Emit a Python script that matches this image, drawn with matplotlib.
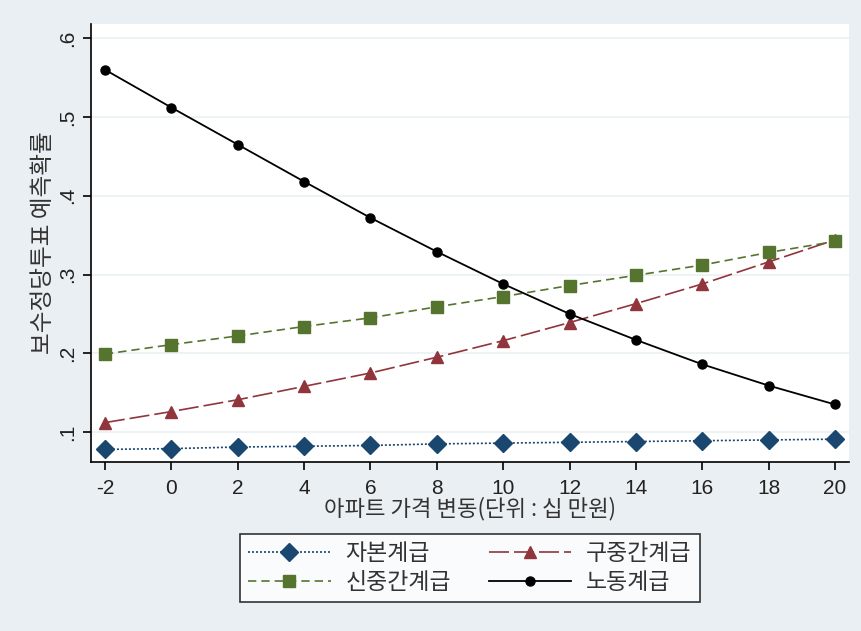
import matplotlib
matplotlib.use("Agg")
import matplotlib.pyplot as plt

plt.rcParams['font.family'] = ['Noto Sans CJK KR', 'DejaVu Sans']

x = [-2, 0, 2, 4, 6, 8, 10, 12, 14, 16, 18, 20]
capital = [0.078, 0.079, 0.081, 0.082, 0.083, 0.085, 0.086, 0.087, 0.088, 0.089, 0.090, 0.091]
old_middle = [0.112, 0.126, 0.141, 0.158, 0.175, 0.195, 0.216, 0.239, 0.263, 0.288, 0.316, 0.344]
new_middle = [0.199, 0.211, 0.222, 0.234, 0.245, 0.259, 0.272, 0.286, 0.299, 0.312, 0.328, 0.342]
working = [0.560, 0.512, 0.465, 0.418, 0.372, 0.329, 0.288, 0.250, 0.217, 0.186, 0.159, 0.135]

labels = ['자본계급', '구중간계급', '신중간계급', '노동계급']
yticks = [0.1, 0.2, 0.3, 0.4, 0.5, 0.6]
ytick_labels = ['.1', '.2', '.3', '.4', '.5', '.6']
xlabel = '아파트 가격 변동(단위 : 십 만원)'
ylabel = '보수정당투표 예측확률'

bg = '#eaeff3'
fig = plt.figure(figsize=(8.62, 6.31), dpi=100, facecolor=bg)
ax = fig.add_axes([91/862, 1-462/631, (849-91)/862, (462-24)/631])
ax.set_facecolor('white')

h0, = ax.plot(x, capital, color='#1a476f', linestyle=(0, (1.2, 1.2)), linewidth=1.2,
              marker='D', markersize=9, label=labels[0])
h1, = ax.plot(x, old_middle, color='#90353b', linestyle=(0, (12, 3)), linewidth=1.2,
              marker='^', markersize=9, label=labels[1])
h2, = ax.plot(x, new_middle, color='#55752f', linestyle=(0, (5, 3)), linewidth=1.2,
              marker='s', markersize=8, label=labels[2])
h3, = ax.plot(x, working, color='black', linestyle='-', linewidth=1.3,
              marker='o', markersize=6.5, label=labels[3])

ax.set_xlim(-2.42, 20.42)
ax.set_ylim(0.062, 0.618)
ax.set_xticks(x)
ax.set_xticklabels([str(v) for v in x], fontsize=15,
                   family=['Liberation Sans Narrow', 'Liberation Sans', 'DejaVu Sans'])
ax.set_yticks(yticks)
ax.set_yticklabels(ytick_labels, rotation=90, va='center', fontsize=15,
                   family=['Liberation Sans', 'DejaVu Sans'])
ax.grid(axis='y', color='#eaf0f2', linewidth=1.2)
ax.set_axisbelow(True)
for s in ['top', 'right']:
    ax.spines[s].set_visible(False)
for s in ['left', 'bottom']:
    ax.spines[s].set_color('black')
    ax.spines[s].set_linewidth(1.2)
ax.tick_params(axis='both', length=6, width=1.2, color='black', labelcolor='#222222')
ax.tick_params(axis='x', pad=6.5)
ax.tick_params(axis='y', pad=4)

ax.set_xlabel(xlabel, fontsize=16, color='#333333', labelpad=-1)
ax.set_ylabel(ylabel, fontsize=17, color='#333333', labelpad=2)

leg = fig.legend([h0, h2, h1, h3], [labels[0], labels[2], labels[1], labels[3]],
                 loc='center', bbox_to_anchor=(470/862, 1-568/631), ncol=2,
                 fontsize=16.5, frameon=True, fancybox=False, edgecolor='black',
                 handlelength=3.6, columnspacing=1.65, borderpad=0.35, labelspacing=0.3,
                 handletextpad=0.65, borderaxespad=0)
leg.get_frame().set_linewidth(1.2)
leg.get_frame().set_facecolor('white')
for t in leg.get_texts():
    t.set_color('#333333')

fig.savefig('out.png', dpi=100, facecolor=bg)
